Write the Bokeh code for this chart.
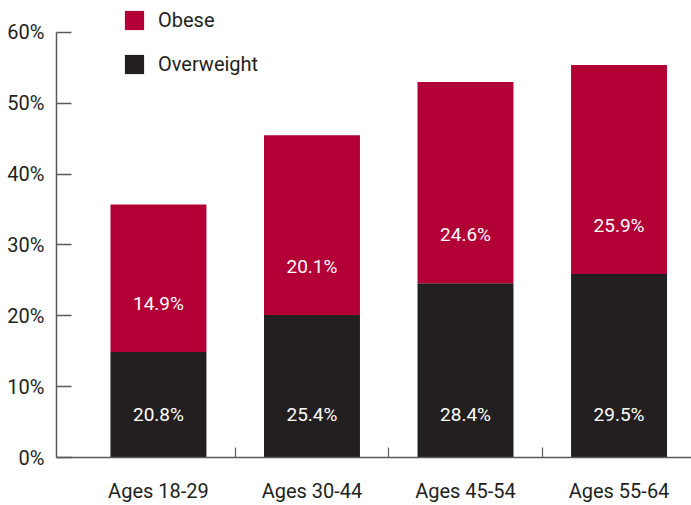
from bokeh.plotting import figure
from bokeh.models import Range1d, FixedTicker, Legend, LegendItem, ColumnDataSource
from bokeh.core.properties import value
from bokeh.embed import file_html
from bokeh.resources import INLINE

# ---- data ----
categories = ["Ages 18-29", "Ages 30-44", "Ages 45-54", "Ages 55-64"]
dark_heights = [14.9, 20.1, 24.6, 25.9]      # lower (dark) segments
red_heights = [20.8, 25.4, 28.4, 29.5]       # upper (red) segments
dark_labels = ["20.8%", "25.4%", "28.4%", "29.5%"]   # text printed in dark segments
red_labels = ["14.9%", "20.1%", "24.6%", "25.9%"]    # text printed in red segments
y_ticks = [0, 10, 20, 30, 40, 50, 60]

FONT = "Roboto"
RED = "#B20037"
DARK = "#231F20"
TXT = "#231F20"
AX = "#5a5a5a"

xs = list(range(len(categories)))
tops = [d + r for d, r in zip(dark_heights, red_heights)]

src = ColumnDataSource(dict(
    x=xs, dark=dark_heights, top=tops,
    dark_lab=dark_labels, red_lab=red_labels,
    dark_lab_y=[6.0 for _ in xs],
    red_lab_y=[d + 6.9 for d in dark_heights],
))

Y_MAX = 60
p = figure(width=691, height=505, output_backend="svg", toolbar_location=None,
           x_range=Range1d(-0.664, 3.472), y_range=Range1d(0, Y_MAX * 458 / 426),
           min_border_left=56, min_border_top=0, min_border_right=0,
           min_border_bottom=47)
p.outline_line_color = None
p.xgrid.visible = False
p.ygrid.visible = False
p.background_fill_color = "white"
p.border_fill_color = "white"

r_dark = p.vbar(x="x", width=0.625, bottom=0, top="dark", source=src,
                fill_color=DARK, line_color=None)
r_red = p.vbar(x="x", width=0.625, bottom="dark", top="top", source=src,
               fill_color=RED, line_color=None)

p.text(x="x", y="dark_lab_y", text="dark_lab", source=src, text_color="white",
       text_font=value(FONT), text_font_size="19px", text_align="center",
       text_baseline="middle")
p.text(x="x", y="red_lab_y", text="red_lab", source=src, text_color="white",
       text_font=value(FONT), text_font_size="19px", text_align="center",
       text_baseline="middle")

# y axis
ya = p.yaxis[0]
ya.ticker = FixedTicker(ticks=y_ticks)
ya.bounds = (0, Y_MAX)
ya.major_label_overrides = {t: f"{t}%" for t in y_ticks}
ya.major_tick_in = 15
ya.major_tick_out = 0
ya.minor_tick_line_color = None
ya.axis_line_color = AX
ya.axis_line_width = 1.5
ya.major_tick_line_color = AX
ya.major_tick_line_width = 1.5
ya.major_label_text_font = FONT
ya.major_label_text_font_size = "20px"
ya.major_label_text_color = TXT
ya.major_label_standoff = 12

# x axis
xa = p.xaxis[0]
xa.ticker = FixedTicker(ticks=xs, minor_ticks=[0.5, 1.5, 2.5])
xa.major_label_overrides = {i: c for i, c in zip(xs, categories)}
xa.major_tick_in = 0
xa.major_tick_out = 0
xa.minor_tick_in = 10
xa.minor_tick_out = 0
xa.minor_tick_line_color = AX
xa.minor_tick_line_width = 1.2
xa.axis_line_color = AX
xa.axis_line_width = 1.5
xa.major_label_text_font = FONT
xa.major_label_text_font_size = "20px"
xa.major_label_text_color = TXT
xa.major_label_standoff = 21

legend = Legend(items=[LegendItem(label="Obese", renderers=[r_red]),
                       LegendItem(label="Overweight", renderers=[r_dark])],
                location=(66, 381), orientation="vertical",
                glyph_width=24, glyph_height=24, label_height=24,
                spacing=20, padding=0, margin=0,
                border_line_color=None, background_fill_alpha=0,
                label_standoff=12, label_text_font=FONT,
                label_text_font_size="20px", label_text_color=TXT)
p.add_layout(legend)

open("out.html", "w").write(file_html(p, INLINE))
